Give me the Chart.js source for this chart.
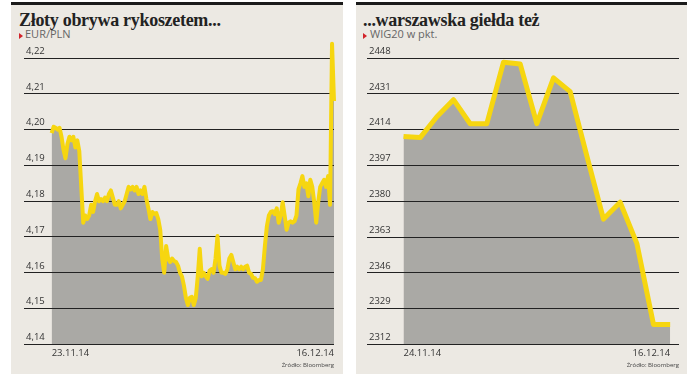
<!DOCTYPE html>
<html>
<head>
<meta charset="utf-8">
<script src="https://cdn.jsdelivr.net/npm/chart.js@4.4.1/dist/chart.umd.min.js"></script>
<style>
  body { margin: 0; background: #fff; width: 693px; height: 382px; overflow: hidden; }
  .panel { position: absolute; top: 2px; height: 369px; background: #ece9e3; border-top: 3px solid #1b1b1b; }
  .title { position: absolute; top: 6px; font: bold 18px/18px "Liberation Serif", serif; color: #222; letter-spacing: -0.3px; white-space: nowrap; }
  .sub { position: absolute; top: 23px; font: 11px/12px "Open Sans", sans-serif; color: #666; white-space: nowrap; }
  .tri { position: absolute; top: 4px; width: 0; height: 0; border-top: 3px solid transparent; border-bottom: 3px solid transparent; border-left: 4px solid #d2232a; }
  .wrap { position: absolute; left: 0; top: 25px; }
</style>
</head>
<body>
<div class="panel" style="left:11px; width:332px;">
  <div class="title" style="left:8px;">Złoty obrywa rykoszetem...</div>
  <div class="tri" style="left:8px; top:28px;"></div>
  <div class="sub" style="left:14px;">EUR/PLN</div>
  <div class="wrap"><canvas id="eurChart" width="332" height="344"></canvas></div>
</div>
<div class="panel" style="left:356px; width:331px;">
  <div class="title" style="left:7px;">...warszawska giełda też</div>
  <div class="tri" style="left:7px; top:28px;"></div>
  <div class="sub" style="left:14px;">WIG20 w pkt.</div>
  <div class="wrap"><canvas id="wigChart" width="331" height="344"></canvas></div>
</div>
<script>
// kurs EUR/PLN, notowania od 23.11 do 16.12.2014
const eurDates = ['23.11.14', '16.12.14'];
const eurTicks = [4.14, 4.15, 4.16, 4.17, 4.18, 4.19, 4.20, 4.21, 4.22];
const eurPln = [
  4.199, 4.2008, 4.2005, 4.200, 4.2005, 4.198, 4.1944, 4.192, 4.196, 4.198,
  4.197, 4.198, 4.195, 4.197, 4.194, 4.184, 4.174, 4.176, 4.175, 4.176,
  4.179, 4.177, 4.180, 4.182, 4.180, 4.1806, 4.180, 4.181, 4.180, 4.182,
  4.183, 4.181, 4.179, 4.179, 4.180, 4.178, 4.179, 4.180, 4.182, 4.184,
  4.1833, 4.184, 4.183, 4.184, 4.182, 4.183, 4.182, 4.184, 4.1806, 4.178,
  4.175, 4.177, 4.1765, 4.1767, 4.175, 4.172, 4.1639, 4.160, 4.1675, 4.164,
  4.163, 4.164, 4.1633, 4.163, 4.162, 4.160, 4.159, 4.1564, 4.153, 4.151,
  4.153, 4.1533, 4.151, 4.153, 4.159, 4.1667, 4.159, 4.160, 4.159, 4.1583,
  4.1606, 4.161, 4.160, 4.164, 4.1703, 4.162, 4.160, 4.160, 4.1597, 4.161,
  4.164, 4.165, 4.163, 4.161, 4.1617, 4.161, 4.1617, 4.161, 4.1617, 4.162,
  4.160, 4.1597, 4.1586, 4.1585, 4.1575, 4.158, 4.158, 4.161, 4.1675, 4.173,
  4.176, 4.177, 4.1772, 4.1764, 4.178, 4.174, 4.176, 4.1797, 4.176, 4.172,
  4.174, 4.1744, 4.174, 4.1744, 4.176, 4.1833, 4.185, 4.187, 4.184, 4.185,
  4.1814, 4.186, 4.184, 4.1797, 4.174, 4.1797, 4.184, 4.185, 4.186, 4.184,
  4.187, 4.179, 4.224, 4.208
];

// WIG20, zamknięcia sesji od 24.11 do 16.12.2014
const wigDates = ['24.11.14', '16.12.14'];
const wigTicks = [2312, 2329, 2346, 2363, 2380, 2397, 2414, 2431, 2448];
const wig20 = [
  2410.7, 2410.2, 2420.1, 2428.2, 2416.8, 2416.8, 2446.0, 2445.2, 2416.8,
  2438.6, 2432.0, 2401.5, 2371.5, 2379.5, 2360.0, 2321.4, 2321.4
];

const yellow = '#f6d610';
const grey = '#aaa9a5';
const tickFont = { family: 'Open Sans', size: 9.5 };

// siatka ma leżeć na szarym polu, ale pod żółtą linią
const gridOverFill = {
  id: 'gridOverFill',
  beforeDatasetDraw(chart, args) {
    if (args.index === 0) chart.scales.y.drawGrid(chart.chartArea);
  }
};

function makeChart(id, values, dates, ticks, xMin, xMax, fmt, lineWidth, pad) {
  const points = values.map((v, i) => ({ x: i, y: v }));
  const last = values.length - 1;
  return new Chart(document.getElementById(id), {
    type: 'line',
    data: {
      datasets: [{
        data: points,
        borderColor: yellow,
        borderWidth: lineWidth,
        borderJoinStyle: 'round',
        pointRadius: 0,
        tension: 0,
        fill: false,
        clip: { left: 5, top: 25, right: 5, bottom: 0 }
      }, {
        data: points,
        borderColor: 'rgba(0,0,0,0)',
        borderWidth: 0,
        backgroundColor: grey,
        pointRadius: 0,
        tension: 0,
        fill: 'start'
      }]
    },
    options: {
      responsive: false,
      animation: false,
      layout: { padding: pad },
      plugins: { legend: { display: false }, tooltip: { enabled: false } },
      scales: {
        x: {
          type: 'linear',
          min: xMin,
          max: xMax,
          grid: { display: false, drawTicks: false },
          border: { display: false },
          afterBuildTicks: axis => { axis.ticks = [{ value: 0 }, { value: last }]; },
          ticks: {
            autoSkip: false,
            maxRotation: 0,
            align: 'inner',
            padding: 3,
            color: '#333',
            font: { family: 'Open Sans', size: 9.5 },
            callback: v => v === 0 ? dates[0] : dates[1]
          },
          title: {
            display: true,
            text: 'Źródło: Bloomberg',
            align: 'end',
            color: '#444',
            font: { family: 'Open Sans', size: 6 },
            padding: { top: 0, bottom: 0 }
          }
        },
        y: {
          min: ticks[0],
          max: ticks[ticks.length - 1],
          afterBuildTicks: axis => { axis.ticks = ticks.map(v => ({ value: v })); },
          grid: { color: '#222', lineWidth: 1, drawTicks: false },
          border: { display: false },
          ticks: {
            mirror: true,
            padding: 2,
            labelOffset: -7,
            color: '#333',
            font: tickFont,
            callback: fmt
          }
        }
      }
    },
    plugins: [gridOverFill]
  });
}

makeChart('eurChart', eurPln, eurDates, eurTicks, -14, eurPln.length - 1,
  v => v.toFixed(2).replace('.', ','), 4, { left: 9, right: 9, top: 28, bottom: 5 });

makeChart('wigChart', wig20, wigDates, wigTicks, -2.19, 16.53,
  v => String(Math.round(v)), 5, { left: 7, right: 8, top: 28, bottom: 5 });
</script>
</body>
</html>
